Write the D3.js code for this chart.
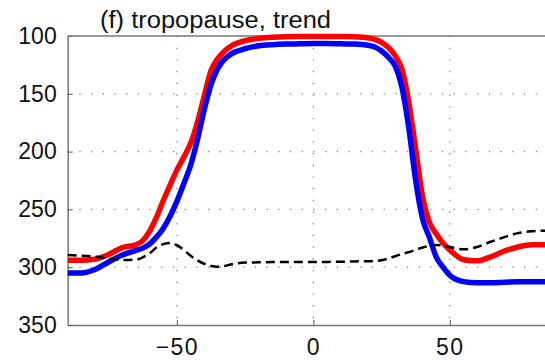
<!DOCTYPE html>
<html>
<head>
<meta charset="utf-8">
<script src="https://cdn.jsdelivr.net/npm/d3@7"></script>
<style>
  body { margin: 0; background: #fff; }
  svg { display: block; font-family: "Liberation Sans", Arial, sans-serif; }
</style>
</head>
<body>
<div id="chart"></div>
<script>
// latitude grid (deg)
const lats = [-90, -85, -80, -75, -70, -65, -62.5, -60, -57.5, -55, -52.5, -50, -47.5, -45, -42.5, -40, -37.5, -35, -32.5, -30,
  -25, -20, -15, -10, -5, 0, 5, 10, 15, 20, 22.5, 25, 27.5, 30, 32.5, 35, 37.5, 40, 42.5, 45, 47.5, 50,
  55, 60, 65, 70, 75, 80, 85, 90];

// tropopause pressure (hPa)
const redVals = [294, 294, 293, 289, 283, 280.5, 277, 269, 257, 242.5, 229, 216, 205, 193, 175, 152, 130, 119.5, 113, 108.5,
  104, 102, 101, 100.6, 100.5, 100.5, 100.5, 100.5, 100.7, 101.5, 103, 105.5, 110, 117, 129, 158, 198, 239, 261, 271, 279, 285,
  293.5, 294.5, 291, 286, 282.5, 280.5, 280.5, 280.5];

const blueVals = [305, 305, 302, 295.5, 289.5, 285.5, 283.5, 280, 274, 266.5, 256, 243, 228, 212, 190, 164, 142, 128, 120, 115.5,
  111, 108.5, 107.5, 107, 106.8, 106.5, 106.5, 106.8, 107, 108, 109.5, 113, 118.5, 126, 145, 180, 225, 258, 274, 291, 300, 307,
  312.5, 313.5, 313.5, 313, 312.5, 312.5, 312.5, 312.5];

const trendVals = [289.5, 290, 291, 292.5, 293.8, 293.5, 291.5, 288, 283, 280, 279, 281, 285, 290, 294, 297, 299, 299.6, 299, 297.5,
  296, 295.8, 295.6, 295.5, 295.5, 295.5, 295.4, 295.3, 295, 294.8, 294.5, 294, 292.5, 290.5, 288.5, 287, 285, 283, 281.5, 280.8, 281.2, 282.5,
  284.5, 282.5, 278, 274, 270.5, 269, 268.5, 268.5];

const xTicks = [-50, 0, 50];
const yTicks = [100, 150, 200, 250, 300, 350];
const title = "(f) tropopause, trend";

const W = 545, H = 360;
const mLeft = 67.7, mRight = 559, mTop = 36, mBottom = 325;

const svg = d3.select("#chart").append("svg")
  .attr("width", W)
  .attr("height", H);

const x = d3.scaleLinear().domain([-90, 90]).range([mLeft, mRight]);
const y = d3.scaleLinear().domain([100, 350]).range([mTop, mBottom]);

// dotted grid
const grid = svg.append("g");
grid.selectAll(".gx")
  .data(xTicks)
  .enter()
  .append("line")
  .attr("x1", d => x(d)).attr("x2", d => x(d))
  .attr("y1", mTop).attr("y2", mBottom)
  .attr("stroke", "#777")
  .attr("stroke-width", 1.2)
  .attr("stroke-dasharray", "1.2,10.5");
grid.selectAll(".gy")
  .data(yTicks.slice(1, -1))
  .enter()
  .append("line")
  .attr("x1", mLeft).attr("x2", mRight)
  .attr("y1", d => y(d)).attr("y2", d => y(d))
  .attr("stroke", "#777")
  .attr("stroke-width", 1.2)
  .attr("stroke-dasharray", "1.2,10.5");

// axes (MATLAB style, ticks inside)
const xAxis = d3.axisBottom(x).tickValues(xTicks).tickSize(-5).tickPadding(14).tickSizeOuter(0);
const yAxis = d3.axisLeft(y).tickValues(yTicks).tickSize(-5).tickPadding(11).tickSizeOuter(0);

const gx = svg.append("g").attr("transform", `translate(0,${mBottom})`).call(xAxis);
const gy = svg.append("g").attr("transform", `translate(${mLeft},0)`).call(yAxis);

[gx, gy].forEach(g => {
  g.select(".domain").attr("stroke", "#777").attr("stroke-width", 1.5);
  g.selectAll(".tick line").attr("stroke", "#555").attr("stroke-width", 1);
  g.selectAll(".tick text")
    .attr("fill", "#111")
    .style("font-size", "23px")
    .style("font-family", "'Liberation Sans', Arial, sans-serif");
});
gx.selectAll(".tick text").style("letter-spacing", "1.5px");

// top frame line
svg.append("line")
  .attr("x1", mLeft).attr("x2", mRight)
  .attr("y1", mTop).attr("y2", mTop)
  .attr("stroke", "#777")
  .attr("stroke-width", 1.5);

// lines
const line = vals => d3.line()
  .x((d, i) => x(lats[i]))
  .y(d => y(d))
  .curve(d3.curveMonotoneX)(vals);

svg.append("path")
  .attr("d", line(redVals))
  .attr("fill", "none")
  .attr("stroke", "#ff0000")
  .attr("stroke-width", 5.5);

svg.append("path")
  .attr("d", line(blueVals))
  .attr("fill", "none")
  .attr("stroke", "#0000ff")
  .attr("stroke-width", 5.5);

svg.append("path")
  .attr("d", line(trendVals))
  .attr("fill", "none")
  .attr("stroke", "#000")
  .attr("stroke-width", 2.5)
  .attr("stroke-dasharray", "9,5");

svg.append("text")
  .attr("x", 100)
  .attr("y", 28.3)
  .attr("fill", "#111")
  .attr("textLength", 231)
  .attr("lengthAdjust", "spacingAndGlyphs")
  .style("font-size", "23.5px")
  .text(title);
</script>
</body>
</html>
